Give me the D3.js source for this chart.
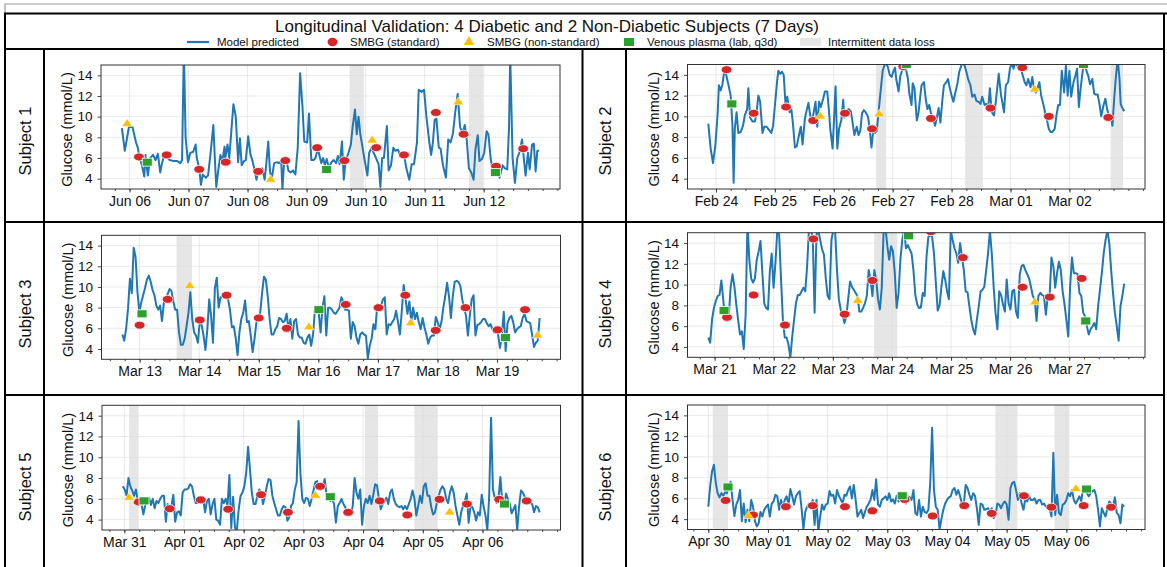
<!DOCTYPE html>
<html><head><meta charset="utf-8">
<script src="https://cdn.jsdelivr.net/npm/d3@7"></script>
<style>
body{margin:0;background:#fff;}
text{font-family:"Liberation Sans",Arial,Helvetica,sans-serif;fill:#111;}
</style></head><body>
<svg id="chart" width="1167" height="567"></svg>
<script>
// ---------------- DATA ----------------
const titleText = "Longitudinal Validation: 4 Diabetic and 2 Non-Diabetic Subjects (7 Days)";
const legendLabels = ["Model predicted","SMBG (standard)","SMBG (non-standard)","Venous plasma (lab, q3d)","Intermittent data loss"];
const subjectLabels = ["Subject 1","Subject 2","Subject 3","Subject 4","Subject 5","Subject 6"];
const yAxisLabel = "Glucose (mmol/L)";
const yTicks = [4,6,8,10,12,14];
const yDomain = [3,15];
const startDates = [[2023,6,6],[2023,2,24],[2023,3,13],[2023,3,21],[2023,3,31],[2023,4,30]];
const dayTickOffsets = [0,1,2,3,4,5,6];

// Subject 1 (times: days from first date)
const s1Time = [-0.13,-0.08,-0.01,0.05,0.11,0.14,0.17,0.21,0.25,0.27,0.31,0.35,0.40,0.44,0.48,0.52,0.55,0.59,0.68,0.75,0.81,0.86,0.89,0.92,0.95,0.99,1.03,1.08,1.12,1.14,1.18,1.21,1.24,1.29,1.33,1.37,1.42,1.45,1.47,1.51,1.54,1.57,1.61,1.62,1.66,1.69,1.73,1.76,1.80,1.84,1.87,1.90,1.94,1.97,2.01,2.05,2.08,2.12,2.15,2.17,2.21,2.25,2.29,2.32,2.35,2.38,2.41,2.45,2.50,2.53,2.57,2.59,2.62,2.66,2.69,2.73,2.77,2.81,2.85,2.89,2.93,2.96,3.01,3.04,3.08,3.12,3.15,3.19,3.22,3.25,3.28,3.31,3.34,3.38,3.42,3.46,3.50,3.53,3.56,3.60,3.63,3.66,3.71,3.75,3.78,3.82,3.85,3.88,3.91,3.94,3.98,4.03,4.06,4.10,4.13,4.22,4.25,4.28,4.31,4.36,4.39,4.43,4.47,4.50,4.55,4.58,4.62,4.65,4.69,4.74,4.78,4.82,4.87,4.90,4.95,4.99,5.03,5.08,5.11,5.14,5.17,5.20,5.24,5.27,5.31,5.36,5.40,5.44,5.48,5.52,5.56,5.60,5.64,5.68,5.71,5.75,5.79,5.83,5.86,5.90,5.93,5.97,6.01,6.05,6.08,6.12,6.15,6.20,6.24,6.27,6.32,6.36,6.40,6.43,6.45,6.49,6.53,6.57,6.61,6.65,6.68,6.71,6.75,6.78,6.82,6.85,6.88,6.91,6.94];
const s1Glucose = [8.9,6.7,9.0,9.0,7.5,7.0,6.0,5.3,4.2,6.3,4.3,6.0,6.3,5.8,6.4,4.6,5.5,6.3,5.8,5.7,5.7,5.5,5.8,16.5,8.0,5.6,6.5,6.6,7.3,6.0,5.0,3.4,4.4,4.1,4.3,6.3,9.2,5.4,3.2,5.1,6.3,5.6,7.1,5.9,7.3,6.0,9.0,11.2,10.0,5.6,7.9,5.3,5.7,5.8,8.1,6.3,5.8,4.8,3.9,4.5,4.8,5.0,3.9,5.6,7.6,4.7,4.0,5.5,5.6,5.5,5.7,3.0,5.7,5.8,4.8,4.6,4.8,4.4,7.0,14.2,11.0,7.6,7.5,10.3,5.8,5.8,6.0,6.9,6.2,5.5,6.0,5.3,5.9,5.0,5.6,5.8,5.5,6.2,5.4,7.6,3.9,5.7,6.5,7.3,9.0,10.7,8.3,10.0,8.3,7.3,5.9,4.3,6.5,7.0,6.6,5.4,3.2,6.0,6.0,9.1,4.8,5.3,7.0,6.7,6.8,6.3,6.5,6.3,5.0,3.9,5.4,5.4,7.5,12.6,12.4,12.6,10.0,7.5,6.3,7.5,9.7,9.8,7.0,6.9,5.3,4.1,7.8,7.5,8.4,10.5,12.2,9.0,8.4,9.2,8.0,5.0,4.6,3.9,6.8,8.2,5.7,5.9,6.5,8.6,8.3,5.9,5.0,5.0,5.3,4.1,5.3,5.0,4.9,9.0,16.0,6.0,3.6,6.0,6.6,7.8,6.0,4.3,6.5,4.9,7.3,7.4,4.7,6.7,6.7];
const s1Smbg = [[0.16,6.1],[0.63,6.3],[1.18,4.9],[1.63,5.6],[2.18,4.7],[2.64,5.75],[3.18,7.0],[3.64,5.75],[4.18,7.0],[4.65,6.3],[5.19,10.4],[5.66,8.3],[6.21,5.2],[6.67,6.9]];
const s1NonStd = [[-0.04,9.3],[2.39,3.9],[4.11,7.7],[5.57,11.4]];
const s1Venous = [[0.30,5.6],[3.34,4.9],[6.20,4.6]];
const s1Loss = [[3.73,3.97],[5.75,5.99]];

// Subject 2
const s2Time = [-0.13,-0.09,-0.05,-0.01,0.03,0.05,0.08,0.11,0.14,0.17,0.21,0.25,0.28,0.30,0.32,0.35,0.38,0.42,0.46,0.49,0.53,0.55,0.58,0.62,0.66,0.69,0.72,0.75,0.79,0.82,0.86,0.90,0.94,0.97,1.00,1.04,1.06,1.09,1.12,1.15,1.18,1.21,1.25,1.28,1.31,1.34,1.37,1.41,1.44,1.47,1.51,1.54,1.57,1.60,1.63,1.66,1.69,1.72,1.75,1.78,1.82,1.85,1.89,1.92,1.94,1.98,2.01,2.03,2.06,2.09,2.13,2.16,2.18,2.22,2.25,2.29,2.32,2.35,2.39,2.42,2.45,2.48,2.51,2.54,2.58,2.61,2.64,2.67,2.70,2.73,2.76,2.80,2.83,2.86,2.89,2.92,2.95,2.98,3.01,3.04,3.06,3.10,3.13,3.16,3.20,3.23,3.26,3.28,3.32,3.34,3.37,3.41,3.44,3.47,3.49,3.53,3.56,3.59,3.62,3.65,3.68,3.72,3.75,3.78,3.81,3.84,3.87,3.91,3.94,3.97,4.00,4.03,4.06,4.10,4.13,4.16,4.18,4.22,4.25,4.28,4.32,4.35,4.39,4.42,4.46,4.49,4.52,4.56,4.59,4.62,4.65,4.68,4.72,4.75,4.78,4.80,4.84,4.86,4.89,4.92,4.96,4.99,5.02,5.05,5.08,5.11,5.15,5.18,5.21,5.24,5.27,5.30,5.34,5.37,5.40,5.43,5.46,5.49,5.52,5.56,5.59,5.62,5.65,5.68,5.71,5.75,5.78,5.81,5.84,5.87,5.91,5.94,5.97,6.00,6.03,6.07,6.10,6.13,6.16,6.19,6.23,6.26,6.29,6.32,6.35,6.39,6.42,6.45,6.48,6.51,6.54,6.58,6.61,6.64,6.67,6.70,6.73,6.76,6.79,6.82,6.85,6.87,6.89,6.93];
const s2Glucose = [9.3,6.9,5.5,7.2,10.4,13.0,12.5,13.1,14.3,14.1,13.1,12.0,9.1,3.6,8.8,10.4,8.4,8.5,9.1,10.1,10.7,12.7,9.9,9.5,9.5,10.4,12.0,11.4,8.4,9.0,9.0,8.7,8.4,9.1,11.0,13.5,14.4,14.1,14.3,14.0,11.2,11.9,10.4,10.7,9.1,7.0,7.1,8.2,9.0,7.3,9.8,10.6,11.3,10.1,9.6,10.4,11.4,9.0,11.4,10.9,11.7,12.4,12.4,10.4,8.8,6.9,10.4,12.9,6.9,8.8,9.7,11.6,9.9,10.6,10.7,10.5,9.4,8.2,9.0,8.2,8.6,10.3,10.6,10.4,10.0,8.8,7.0,8.6,8.4,8.6,10.4,12.7,14.4,14.9,15.2,14.7,14.0,13.8,14.3,14.7,13.6,12.4,13.9,14.4,14.7,14.4,13.6,12.3,11.1,13.2,12.7,9.6,10.4,12.0,13.0,13.3,11.7,10.7,11.1,10.3,9.9,9.1,9.9,10.8,9.4,11.4,13.0,13.3,13.6,12.7,12.0,11.4,12.2,13.2,14.3,14.8,15.2,14.9,14.3,13.6,13.0,11.9,12.1,11.5,11.4,11.2,11.9,11.1,11.2,10.7,12.7,10.4,10.1,11.4,13.0,14.1,12.0,11.4,10.4,13.0,13.3,14.6,15.2,14.6,15.2,14.9,15.2,14.5,13.9,13.3,13.0,13.6,12.8,13.8,12.6,12.3,12.7,13.3,12.0,11.1,10.3,9.6,8.8,8.5,8.5,8.8,10.1,11.1,11.1,14.4,12.3,14.9,12.0,14.4,11.9,13.3,13.9,14.6,10.9,12.7,14.6,14.9,14.4,13.9,13.1,13.6,12.2,12.1,12.1,11.2,10.0,11.1,11.7,10.7,10.1,10.1,9.1,11.7,13.9,15.5,13.6,11.2,10.9,10.5];
const s2Smbg = [[0.18,14.5],[0.64,10.3],[1.19,10.9],[1.65,9.6],[2.19,10.3],[2.65,8.8],[3.18,14.8],[3.65,9.8],[4.66,10.8],[5.20,14.7],[5.65,10.0],[6.66,9.9]];
const s2NonStd = [[1.77,10.0],[2.77,10.2],[5.41,12.6]];
const s2Venous = [[0.27,11.2],[3.23,15.0],[6.24,15.0]];
const s2Loss = [[2.72,2.89],[4.23,4.53],[6.70,6.91]];

// Subjects 3-6: regular sampling between first and last reading time (days)
const s3Span = [-0.29,6.715];
const s3Glucose = [5.4,4.8,6.0,7.9,10.8,9.4,13.8,12.9,9.5,7.6, 8.5,9.2,9.9,10.7,11.1,10.5,9.7,9.2,8.2,7.8, 8.2,6.7,8.5,8.8,9.3,9.8,9.6,8.6,7.8,7.8, 5.6,4.4,4.4,5.0,6.2,7.5,9.5,6.9,5.6,5.3, 4.6,6.7,6.3,5.3,3.9,5.9,8.8,7.2,4.6,9.9, 10.9,8.0,9.0,9.0,9.3,9.1,8.8,7.8,6.1,6.2, 5.1,3.4,5.6,6.9,7.5,8.7,6.6,6.7,5.3,3.7, 5.0,6.6,6.9,7.5,9.4,11.0,10.7,9.1,6.9,5.4, 5.4,5.9,6.2,7.0,6.9,6.6,6.7,7.4,5.9,6.9, 5.0,6.7,6.9,5.4,5.1,5.1,4.6,4.5,5.1,5.4, 4.3,5.4,7.8,7.7,7.5,5.6,8.0,9.1,5.3,8.0, 8.0,7.8,7.5,7.4,7.7,8.0,9.0,8.6,7.8,7.8, 7.7,5.0,6.6,6.2,5.1,4.5,5.4,5.6,5.4,5.3, 3.1,4.3,5.0,6.4,5.9,8.3,7.8,8.2,8.8,9.0, 5.4,6.4,6.3,6.6,6.9,7.7,6.6,5.4,7.7,10.2, 8.8,7.4,8.6,6.6,8.0,6.9,7.5,6.6,5.9,7.0, 6.1,5.4,4.5,5.1,5.3,5.3,7.1,6.6,5.9,6.6, 8.0,9.1,10.4,9.1,7.0,9.1,10.5,10.6,10.5,10.1, 8.8,8.0,7.2,5.3,7.2,8.8,9.2,5.3,6.3,6.4, 6.6,6.9,6.9,6.5,6.2,6.4,5.9,5.6,5.8,5.4, 4.1,5.3,7.6,3.8,6.5,7.0,7.2,6.6,5.6,5.9, 6.1,6.2,7.0,7.4,6.7,6.6,6.5,5.4,4.2,4.6, 4.8,7.0];
const s3Smbg = [[0.0,6.3],[0.47,8.8],[1.01,6.8],[1.46,9.2],[2.00,7.0],[2.47,6.0],[3.46,8.3],[4.01,8.0],[4.46,9.2],[4.97,5.8],[5.47,8.0],[6.01,5.85],[6.47,7.8]];
const s3NonStd = [[0.84,10.1],[2.84,6.1],[4.55,6.5],[6.68,5.3]];
const s3Venous = [[0.04,7.4],[3.01,7.8],[6.14,5.1]];
const s3Loss = [[0.62,0.88]];

const s4Span = [-0.107,6.93];
const s4Glucose = [4.9,4.4,6.6,7.75,8.4,8.9,9.0,10.4,8.6,6.6, 6.5,7.0,9.8,11.0,9.8,8.1,6.6,5.2,5.5,3.8, 7.0,16,12.4,10.6,10.2,10.6,12.4,13.2,14.2,11.1, 8.2,7.75,7.6,11.3,13.0,9.7,12.1,15.2,14.8,10.5, 6.6,4.9,4.9,4.2,3.0,5.0,6.6,8.2,9.0,9.0, 9.35,9.7,9.35,11.8,15.5,15.2,14.6,7.3,14.8,15.2, 14.3,13.4,12.9,10.6,8.9,8.6,14.3,15.2,15.2,11.4, 8.6,7.6,7.1,6.3,6.95,8.6,10.3,9.8,9.5,9.2, 8.9,7.4,7.4,7.75,8.2,8.9,11.4,10.5,8.9,11.4, 10.5,8.6,7.6,9.7,15.2,15.5,13.7,12.4,13.7,13.2, 11.1,7.75,9.2,12.4,14.3,15.2,13.5,13.8,13.4,13.0, 11.4,9.0,8.1,7.75,7.8,9.2,8.9,12.7,14.6,14.8, 14.6,13.0,10.2,7.5,8.0,9.8,11.3,10.5,9.35,8.6, 15.2,14.3,13.5,13.0,12.1,14.0,12.7,11.4,9.35,9.25, 7.9,6.6,5.7,5.2,6.6,7.9,9.35,9.5,9.8,11.4, 13.0,15.2,13.0,9.8,7.3,5.7,9.35,9.0,8.1,7.4, 10.5,8.2,7.6,9.35,9.5,7.4,6.8,11.0,11.8,11.9, 11.4,11.0,10.6,9.8,8.9,8.6,6.5,8.9,9.2,9.0, 8.9,7.1,8.9,8.9,12.6,11.8,9.7,11.1,12.2,11.4, 9.35,8.1,6.6,5.0,9.8,12.6,11.1,11.1,11.0,9.2, 8.9,7.3,6.95,6.0,5.2,5.7,6.0,6.3,5.7,7.9, 9.5,11.1,13.0,14.3,15.2,14.0,11.4,9.2,7.3,6.0, 4.6,7.9,8.9,10.1];
const s4Smbg = [[0.21,6.85],[0.66,9.0],[1.19,6.1],[1.67,14.4],[2.20,7.15],[2.67,10.4],[3.66,15.1],[4.20,12.6],[5.21,9.75],[5.67,8.8],[6.21,10.6]];
const s4NonStd = [[2.42,8.45],[5.42,8.3]];
const s4Venous = [[0.16,7.5],[3.28,14.7],[6.28,6.5]];
const s4Loss = [[2.70,3.09]];

const s5Span = [-0.025,6.958];
const s5Glucose = [7.2,6.9,6.3,8.0,7.2,6.8,6.3,6.9,5.8,5.6, 5.5,4.5,5.4,5.6,6.1,5.4,6.0,5.1,5.8,5.6, 6.0,6.3,6.3,3.8,5.5,5.0,5.3,6.4,3.8,4.7, 4.8,4.4,6.6,6.9,6.9,7.0,7.4,7.2,6.3,5.6, 5.6,5.9,5.6,6.0,4.7,5.8,6.0,4.5,5.5,6.0, 4.0,3.9,3.5,6.0,5.6,6.0,5.3,8.3,3.2,6.2, 3.2,3.0,5.0,6.3,6.6,7.2,8.5,11.0,8.9,6.6, 5.5,5.5,6.3,6.9,6.6,5.5,6.3,7.2,7.9,7.8, 6.3,5.6,5.0,4.4,4.4,5.0,5.3,5.2,3.9,4.2, 5.3,5.6,6.9,7.6,13.5,8.5,6.0,5.6,6.1,6.0, 5.3,6.0,6.8,7.6,7.7,6.9,6.9,7.2,7.9,6.3, 6.0,5.8,6.0,5.5,3.7,5.3,5.6,6.0,5.5,5.2, 4.8,4.7,4.5,5.3,8.0,6.6,6.0,6.9,3.5,5.3, 6.0,5.6,6.3,5.5,6.4,7.4,7.3,6.0,5.0,5.5, 5.8,6.1,5.5,6.6,6.9,6.0,5.5,5.3,5.2,5.3, 5.0,5.3,5.0,5.5,6.0,6.8,6.0,4.4,5.3,6.3, 5.6,7.2,7.5,6.3,6.3,5.2,4.5,4.7,5.6,6.3, 6.9,7.2,6.9,6.0,5.6,6.6,7.2,6.6,5.3,4.4, 3.5,4.7,5.3,5.8,6.5,3.7,5.3,5.2,4.7,3.9, 4.7,4.4,6.4,5.3,4.4,3.0,6.3,13.8,6.9,6.1, 5.6,6.1,8.1,5.6,5.3,6.5,6.0,5.5,4.6,5.0, 5.4,3.0,5.3,6.8,6.6,6.2,6.0,6.0,5.6,5.5, 4.7,5.3,5.2,4.7];
const s5Smbg = [[0.24,5.7],[0.76,5.05],[1.28,5.9],[1.74,5.0],[2.29,6.4],[2.74,4.7],[3.28,7.2],[3.75,4.7],[4.28,5.8],[4.74,4.45],[5.28,5.95],[5.74,5.5],[6.28,5.95],[6.74,5.8]];
const s5NonStd = [[0.08,6.1],[3.20,6.3],[5.45,4.7]];
const s5Venous = [[0.33,5.8],[3.45,6.2],[6.37,5.5]];
const s5Loss = [[0.08,0.24],[4.03,4.25],[4.86,5.25]];

const s6Span = [0.0,6.97];
const s6Glucose = [5.2,7.15,8.6,9.25,7.5,6.5,6.1,6.5,6.25,6.6, 6.5,7.15,7.6,5.85,4.3,5.4,5.85,6.8,3.8,5.5, 3.7,4.9,3.8,5.85,5.2,3.8,3.3,3.6,4.7,4.25, 4.9,5.2,5.4,4.25,5.5,5.7,6.35,6.2,4.9,5.85, 5.2,5.85,6.2,5.4,6.9,6.2,5.4,6.2,6.5,6.7, 5.05,3.0,4.7,5.2,5.5,5.4,5.85,3.45,5.85,2.8, 4.25,5.4,4.9,5.4,5.5,6.7,6.25,6.35,5.5,6.8, 6.25,5.9,5.5,6.35,6.25,6.8,7.15,6.0,7.3,5.85, 4.25,4.6,4.9,4.1,4.7,5.2,5.5,5.85,6.8,5.85, 7.85,5.4,5.2,5.85,6.0,6.2,5.85,6.5,5.7,5.9, 5.5,6.25,5.7,6.0,5.8,6.0,5.5,6.2,6.1,5.85, 6.8,4.6,4.4,5.85,4.25,5.2,4.7,4.6,4.9,7.5, 12.8,6.8,5.2,4.9,3.0,4.0,4.9,5.5,5.85,6.1, 6.2,6.8,7.0,6.35,6.8,6.2,5.5,5.4,7.3,7.0, 6.35,5.85,6.5,6.25,5.05,3.45,5.5,5.4,4.9,4.95, 5.05,4.7,5.05,4.1,4.4,5.5,5.4,5.05,5.5,5.7, 5.4,3.95,7.0,7.5,7.6,6.8,5.85,6.5,5.5,4.9, 6.0,5.7,6.2,5.85,5.85,6.0,5.5,5.85,5.85,5.4, 5.5,5.2,5.2,5.05,4.25,10.4,4.4,6.35,4.6,4.4, 5.4,5.5,5.85,6.5,6.2,6.8,5.85,5.5,5.85,6.2, 5.7,7.15,6.8,6.5,6.2,6.5,6.7,6.8,6.2,4.9, 3.3,5.05,4.6,4.25,5.05,5.7,5.5,5.2,6.1,4.6, 4.4,3.6,5.4,5.2];
const s6Smbg = [[0.29,5.8],[0.75,4.4],[1.30,5.2],[1.75,5.3],[2.29,5.2],[2.75,4.8],[3.29,5.9],[3.76,4.3],[4.29,5.3],[4.75,4.55],[5.29,6.25],[5.75,5.15],[6.29,5.3],[6.75,5.15]];
const s6NonStd = [[0.67,4.3],[6.16,6.9]];
const s6Venous = [[0.33,7.1],[3.25,6.25],[6.34,6.9]];
const s6Loss = [[0.075,0.33],[4.81,5.18],[5.80,6.05]];

// ---------------- BUILD ----------------
function regular(span, vals){ const n = vals.length; return vals.map((v,i)=>[span[0]+i*(span[1]-span[0])/(n-1), v]); }
function zip(t, v){ const n=Math.min(t.length,v.length); return d3.range(n).map(i=>[t[i],v[i]]); }

const subjects = [
  {series: zip(s1Time,s1Glucose), smbg:s1Smbg, non:s1NonStd, ven:s1Venous, loss:s1Loss},
  {series: zip(s2Time,s2Glucose), smbg:s2Smbg, non:s2NonStd, ven:s2Venous, loss:s2Loss},
  {series: regular(s3Span,s3Glucose), smbg:s3Smbg, non:s3NonStd, ven:s3Venous, loss:s3Loss},
  {series: regular(s4Span,s4Glucose), smbg:s4Smbg, non:s4NonStd, ven:s4Venous, loss:s4Loss},
  {series: regular(s5Span,s5Glucose), smbg:s5Smbg, non:s5NonStd, ven:s5Venous, loss:s5Loss},
  {series: regular(s6Span,s6Glucose), smbg:s6Smbg, non:s6NonStd, ven:s6Venous, loss:s6Loss},
];

// layout (pixel boxes of each plot area)
const boxes = [
  {x0:101, x1:560, y0:65, y1:189},
  {x0:687.5, x1:1145, y0:64.5, y1:189},
  {x0:101.5, x1:560.5, y0:235.3, y1:359.3},
  {x0:687.5, x1:1145, y0:232.7, y1:357.3},
  {x0:102, x1:560.5, y0:405.3, y1:530},
  {x0:687.5, x1:1145, y0:405, y1:529.5},
];
const rowBands = [[49,222],[222,395],[395,568]];
const labelX = [25, 605];

const COL = {line:"#1f77b4", smbg:"#d62728", non:"#ffbf00", ven:"#2ca02c", loss:"#e6e6e6"};

const W=1167, H=567;
const svg = d3.select("#chart");
svg.append("rect").attr("width",W).attr("height",H).attr("fill","#fff");

// table frame
svg.append("path").attr("d","M5,13 L5,4 L1167,4").attr("fill","none").attr("stroke","#9a9a9a").attr("stroke-width",1.2);
const frameLines = [[4,13.5,1167,13.5],[5,13,5,567],[1164,13,1164,567],[4,49,1165,49],[4,222,1165,222],[4,395,1165,395],[44,49,44,567],[582.5,49,582.5,567],[626,49,626,567]];
svg.append("g").selectAll("line").data(frameLines).join("line")
  .attr("x1",d=>d[0]).attr("y1",d=>d[1]).attr("x2",d=>d[2]).attr("y2",d=>d[3])
  .attr("stroke","#000").attr("stroke-width",2);

// title
svg.append("text").attr("x",547).attr("y",26.5).attr("dy","0.35em").attr("text-anchor","middle")
  .style("font-size","17px").text(titleText);

// legend
const lg = svg.append("g").attr("transform","translate(0,42)");
lg.append("line").attr("x1",187).attr("x2",209).attr("y1",0).attr("y2",0).attr("stroke",COL.line).attr("stroke-width",2.2);
lg.append("ellipse").attr("cx",332.5).attr("cy",0).attr("rx",5).attr("ry",4.2).attr("fill",COL.smbg);
lg.append("path").attr("d",d3.symbol(d3.symbolTriangle,48)()).attr("transform","translate(469,0)").attr("fill",COL.non);
lg.append("rect").attr("x",624).attr("y",-4).attr("width",10).attr("height",8).attr("fill",COL.ven);
lg.append("rect").attr("x",800).attr("y",-4).attr("width",21).attr("height",8).attr("fill",COL.loss);
const legendX = [217,350,487,647,828];
lg.selectAll("text.lt").data(legendLabels).join("text").attr("class","lt")
  .attr("x",(d,i)=>legendX[i]).attr("y",0).attr("dy","0.35em").style("font-size","11.5px").text(d=>d);

// subject labels
subjectLabels.forEach((lab,i)=>{
  const r = Math.floor(i/2), c = i%2;
  const cy = (rowBands[r][0]+rowBands[r][1])/2 + 5.5;
  svg.append("text").attr("transform",`translate(${labelX[c]},${cy}) rotate(-90)`)
    .attr("text-anchor","middle").attr("dy","0.35em").style("font-size","16.5px").text(lab);
});

// panels
subjects.forEach((s,i)=>{
  const b = boxes[i];
  const sd = startDates[i];
  const day0 = Date.UTC(sd[0], sd[1]-1, sd[2]);
  const toDate = t => new Date(day0 + t*864e5);
  const tExt = d3.extent(s.series, d=>d[0]);
  const pad = (tExt[1]-tExt[0])*0.05;
  const x = d3.scaleUtc().domain([toDate(tExt[0]-pad), toDate(tExt[1]+pad)]).range([b.x0,b.x1]);
  const y = d3.scaleLinear().domain(yDomain).range([b.y1,b.y0]);
  const g = svg.append("g");
  const cid = "clip"+i;
  g.append("clipPath").attr("id",cid).append("rect").attr("x",b.x0).attr("y",b.y0).attr("width",b.x1-b.x0).attr("height",b.y1-b.y0);
  const inner = g.append("g").attr("clip-path",`url(#${cid})`);

  // loss bands
  inner.selectAll("rect.loss").data(s.loss).join("rect").attr("class","loss")
    .attr("x",d=>x(toDate(d[0]))).attr("width",d=>x(toDate(d[1]))-x(toDate(d[0])))
    .attr("y",b.y0).attr("height",b.y1-b.y0).attr("fill",COL.loss);

  // grid
  const dayTicks = dayTickOffsets.map(toDate);
  inner.selectAll("line.gx").data(dayTicks).join("line").attr("class","gx")
    .attr("x1",d=>x(d)).attr("x2",d=>x(d)).attr("y1",b.y0).attr("y2",b.y1)
    .attr("stroke","#dcdcdc").attr("stroke-width",0.8).attr("stroke-opacity",0.8);
  inner.selectAll("line.gy").data(yTicks).join("line").attr("class","gy")
    .attr("x1",b.x0).attr("x2",b.x1).attr("y1",d=>y(d)).attr("y2",d=>y(d))
    .attr("stroke","#dcdcdc").attr("stroke-width",0.8).attr("stroke-opacity",0.8);

  // model line
  const line = d3.line().x(d=>x(toDate(d[0]))).y(d=>y(d[1]));
  inner.append("path").datum(s.series).attr("d",line).attr("fill","none")
    .attr("stroke",COL.line).attr("stroke-width",2).attr("stroke-linejoin","round");

  // markers
  inner.selectAll("ellipse.sm").data(s.smbg).join("ellipse").attr("class","sm")
    .attr("cx",d=>x(toDate(d[0]))).attr("cy",d=>y(d[1])).attr("rx",5.4).attr("ry",4)
    .attr("fill",COL.smbg).attr("stroke","#fff").attr("stroke-width",0.8);
  inner.selectAll("path.ns").data(s.non).join("path").attr("class","ns")
    .attr("d",d3.symbol(d3.symbolTriangle,34)())
    .attr("transform",d=>`translate(${x(toDate(d[0]))},${y(d[1])}) scale(1.2,1)`)
    .attr("fill",COL.non).attr("stroke","#fff").attr("stroke-width",0.5);
  inner.selectAll("rect.vn").data(s.ven).join("rect").attr("class","vn")
    .attr("x",d=>x(toDate(d[0]))-5).attr("y",d=>y(d[1])-4).attr("width",10).attr("height",8)
    .attr("fill",COL.ven).attr("stroke","#fff").attr("stroke-width",0.8);

  // axes
  const xAxis = d3.axisBottom(x).tickValues(dayTicks).tickFormat(d3.utcFormat("%b %d"))
    .tickSizeInner(3.5).tickSizeOuter(0).tickPadding(3.5);
  const xMinor = d3.axisBottom(x).ticks(d3.utcHour.every(6)).tickFormat("").tickSizeInner(2).tickSizeOuter(0);
  const yAxis = d3.axisLeft(y).tickValues(yTicks).tickSizeInner(3.5).tickSizeOuter(0).tickPadding(5);
  const gxm = g.append("g").attr("transform",`translate(0,${b.y1})`).call(xMinor);
  const gx = g.append("g").attr("transform",`translate(0,${b.y1})`).call(xAxis);
  const gy = g.append("g").attr("transform",`translate(${b.x0},0)`).call(yAxis);
  [gx,gy,gxm].forEach(a=>{ a.select(".domain").remove(); a.selectAll("line").attr("stroke","#333").attr("stroke-width",0.9); });
  gx.selectAll("text").style("font-size","14px").style("font-family","'Liberation Sans',Arial,sans-serif").attr("fill","#111");
  gy.selectAll("text").style("font-size","13.5px").style("font-family","'Liberation Sans',Arial,sans-serif").attr("fill","#111");

  // frame
  g.append("rect").attr("x",b.x0).attr("y",b.y0).attr("width",b.x1-b.x0).attr("height",b.y1-b.y0)
    .attr("fill","none").attr("stroke","#333").attr("stroke-width",1);

  // y label
  g.append("text").attr("transform",`translate(${b.x0-34},${(b.y0+b.y1)/2+2.5}) rotate(-90)`)
    .attr("text-anchor","middle").attr("dy","0.35em").style("font-size","14.5px").text(yAxisLabel);
});
</script>
</body></html>
